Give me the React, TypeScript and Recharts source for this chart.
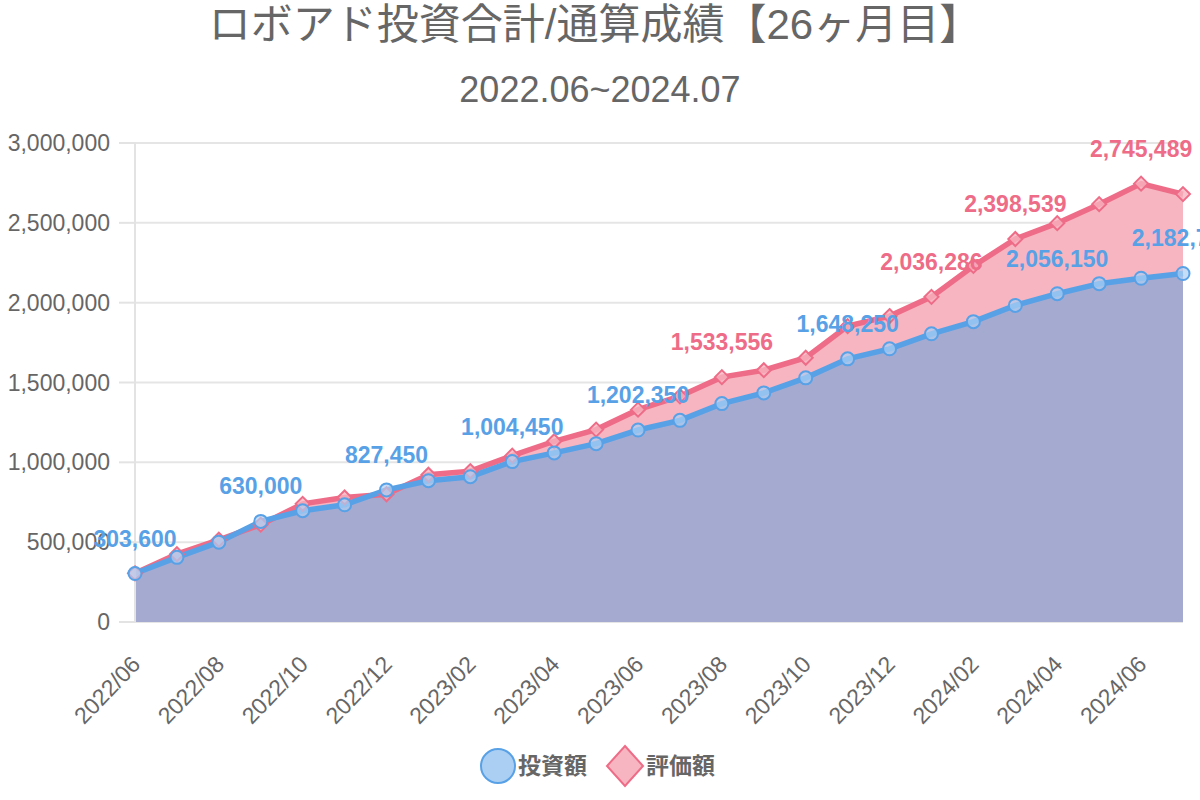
import React from 'react';
import {
  ComposedChart,
  Area,
  Line,
  XAxis,
  YAxis,
  CartesianGrid,
  LabelList,
} from 'recharts';

const months = [
  '2022/06', '2022/07', '2022/08', '2022/09', '2022/10', '2022/11', '2022/12',
  '2023/01', '2023/02', '2023/03', '2023/04', '2023/05', '2023/06', '2023/07',
  '2023/08', '2023/09', '2023/10', '2023/11', '2023/12', '2024/01', '2024/02',
  '2024/03', '2024/04', '2024/05', '2024/06', '2024/07',
];

// 投資額
const invest = [
  303600, 405000, 500000, 630000, 697000, 734000, 827450, 885000, 910000,
  1004450, 1059000, 1117000, 1202350, 1263000, 1368000, 1435000, 1529000,
  1648250, 1711000, 1805000, 1881000, 1983000, 2056150, 2119000, 2153000, 2182750,
];

// 評価額
const valuation = [
  305000, 425000, 515000, 610000, 740000, 780000, 800000, 922000, 945000,
  1042000, 1132000, 1205000, 1330000, 1414000, 1533556, 1577000, 1655000,
  1853000, 1916000, 2036286, 2230000, 2398539, 2498000, 2617000, 2745489, 2680000,
];

// which points carry a value label
const investLabelIdx = [0, 3, 6, 9, 12, 17, 22, 25];
const valuationLabelIdx = [14, 19, 21, 24];

const yTicks = [0, 500000, 1000000, 1500000, 2000000, 2500000, 3000000];

const BLUE = '#58a1e6';
const RED = '#ee6c87';
const FONT = "'Liberation Sans', Arial, 'Noto Sans CJK JP', sans-serif";

const data = months.map((m, i) => ({
  month: m,
  invest: invest[i],
  valuation: valuation[i],
  investLabel: investLabelIdx.includes(i) ? invest[i] : null,
  valuationLabel: valuationLabelIdx.includes(i) ? valuation[i] : null,
}));

const fmt = (v: number) => v.toLocaleString('en-US');

const makeLabel = (color: string) => (props: any) => {
  const { x, y, value } = props;
  if (value === null || value === undefined) return null;
  return (
    <text
      x={x}
      y={y - 35}
      textAnchor="middle"
      dominantBaseline="central"
      fill={color}
      fontSize={23}
      fontWeight="bold"
      fontFamily={FONT}
    >
      {fmt(value)}
    </text>
  );
};

const CircleDot = (props: any) => {
  const { cx, cy } = props;
  if (cx == null || cy == null) return null;
  return <circle cx={cx} cy={cy} r={6.5} fill="rgba(172,207,243,0.7)" stroke={BLUE} strokeWidth={2} />;
};

const DiamondDot = (props: any) => {
  const { cx, cy } = props;
  if (cx == null || cy == null) return null;
  const s = 7;
  return (
    <polygon
      points={`${cx},${cy - s} ${cx + s},${cy} ${cx},${cy + s} ${cx - s},${cy}`}
      fill="rgba(247,180,193,0.8)"
      stroke={RED}
      strokeWidth={2}
    />
  );
};

const XTick = (props: any) => {
  const { x, y, payload } = props;
  const ax = x + 1;
  const ay = y + 30;
  return (
    <text
      x={ax}
      y={ay}
      textAnchor="end"
      dominantBaseline="central"
      transform={`rotate(-46, ${ax}, ${ay})`}
      fill="#666"
      fontSize={23}
      fontFamily={FONT}
    >
      {payload.value}
    </text>
  );
};

export default function App() {
  return (
    <div style={{ position: 'absolute', left: 0, top: 0, width: 1200, height: 800, background: '#fff', fontFamily: FONT }}>
      <div style={{ position: 'absolute', left: 0, width: 1190, top: 0, textAlign: 'center', fontSize: 42, lineHeight: '50px', color: '#666' }}>
        ロボアド投資合計/通算成績【26ヶ月目】
      </div>
      <div style={{ position: 'absolute', left: 0, width: 1200, top: 65, textAlign: 'center', fontSize: 36, lineHeight: '50px', color: '#666' }}>
        2022.06~2024.07
      </div>

      <div style={{ position: 'absolute', left: 0, top: 0 }}>
        <ComposedChart width={1200} height={800} data={data} margin={{ top: 143, right: 17, bottom: 78, left: 0 }}>
          <XAxis
            dataKey="month"
            scale="point"
            padding={{ left: 0, right: 0 }}
            interval={1}
            axisLine={false}
            tickLine={false}
            height={100}
            tick={<XTick />}
          />
          <YAxis
            width={135}
            domain={[0, 3000000]}
            ticks={yTicks}
            tickFormatter={fmt}
            tickSize={16}
            tickMargin={9}
            axisLine={{ stroke: '#e3e3e3', strokeWidth: 2 }}
            tickLine={{ stroke: '#e3e3e3', strokeWidth: 2 }}
            tick={{ fill: '#666', fontSize: 23, fontFamily: FONT }}
          />
          <Area
            type="linear"
            dataKey="valuation"
            stroke="none"
            fill="#f6b5c1"
            fillOpacity={1}
            dot={false}
            activeDot={false}
            isAnimationActive={false}
          >
            <LabelList dataKey="valuationLabel" content={makeLabel(RED)} />
          </Area>
          <Area
            type="linear"
            dataKey="invest"
            stroke="none"
            fill="#a5aad1"
            fillOpacity={1}
            dot={false}
            activeDot={false}
            isAnimationActive={false}
          >
            <LabelList dataKey="investLabel" content={makeLabel(BLUE)} />
          </Area>
          <CartesianGrid vertical={false} stroke="rgba(0,0,0,0.1)" strokeWidth={2} />
          <Line
            type="linear"
            dataKey="valuation"
            stroke={RED}
            strokeWidth={5.5}
            dot={<DiamondDot />}
            activeDot={false}
            isAnimationActive={false}
          />
          <Line
            type="linear"
            dataKey="invest"
            stroke={BLUE}
            strokeWidth={5.5}
            dot={<CircleDot />}
            activeDot={false}
            isAnimationActive={false}
          />
        </ComposedChart>
      </div>

      {/* legend */}
      <svg style={{ position: 'absolute', left: 0, top: 740 }} width={1200} height={55}>
        <circle cx={498} cy={26} r={17} fill="#abcff3" stroke={BLUE} strokeWidth={2} />
        <text x={518} y={26} dominantBaseline="central" fill="#666" fontSize={23} fontWeight="bold" fontFamily={FONT}>投資額</text>
        <polygon points="625,6 643,26 625,46 607,26" fill="#f6b5c1" stroke={RED} strokeWidth={2} />
        <text x={646} y={26} dominantBaseline="central" fill="#666" fontSize={23} fontWeight="bold" fontFamily={FONT}>評価額</text>
      </svg>
    </div>
  );
}
